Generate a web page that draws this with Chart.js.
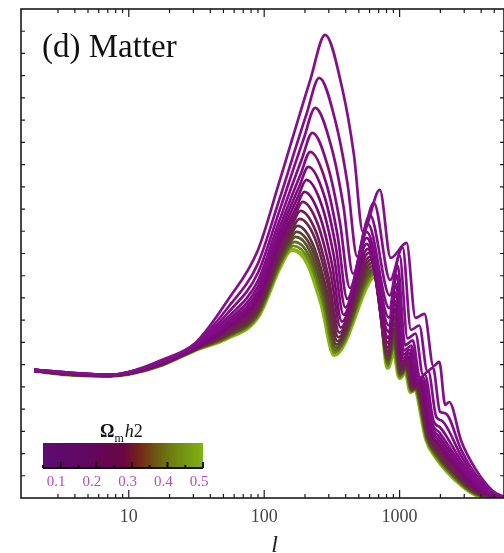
<!DOCTYPE html>
<html>
<head>
<meta charset="utf-8">
<script src="https://cdn.jsdelivr.net/npm/chart.js@4.4.1/dist/chart.umd.min.js"></script>
<style>
  html, body { margin: 0; padding: 0; background: #fff; overflow: hidden; }
  #wrap { width: 504px; height: 553px; overflow: hidden; }
</style>
</head>
<body>
<div id="wrap"><canvas id="chart" width="512" height="553"></canvas></div>
<script>
// Omega_m h^2 of each curve (0.1 ... 0.5)
const omega = [0.100, 0.125, 0.150, 0.175, 0.200, 0.225, 0.250, 0.275, 0.300,
               0.325, 0.350, 0.375, 0.400, 0.425, 0.450, 0.475, 0.500];

// multipoles shared by every curve (plateau + start of the rise, and the damping tail)
const ellLow = [2, 4, 7, 10, 17.5, 31, 54, 90, 128];
const ellTail = [2850, 3670, 4880, 5900];

// multipoles of the acoustic features, one list per curve
const ell_0100 = [219, 282, 376, 460, 536, 714, 859, 1125, 1310, 1525, 1775, 1963, 2173, 2323];
const ell_0125 = [205, 255, 338, 413, 486, 645, 851, 1052, 1212, 1396, 1604, 1763, 1990, 2173];
const ell_0150 = [196, 238, 314, 384, 453, 603, 845, 1000, 1144, 1310, 1489, 1628, 1864, 2062];
const ell_0175 = [190, 227, 297, 363, 429, 583, 839, 967, 1099, 1250, 1411, 1538, 1780, 1994];
const ell_0200 = [186, 219, 287, 349, 411, 573, 836, 951, 1077, 1220, 1369, 1487, 1739, 1967];
const ell_0225 = [182, 212, 277, 338, 397, 573, 834, 943, 1064, 1202, 1341, 1454, 1713, 1950];
const ell_0250 = [178, 205, 267, 327, 386, 573, 831, 935, 1052, 1184, 1316, 1425, 1687, 1931];
const ell_0275 = [174, 198, 257, 317, 375, 583, 828, 927, 1039, 1166, 1292, 1394, 1661, 1914];
const ell_0300 = [170, 192, 248, 308, 367, 593, 827, 922, 1032, 1156, 1277, 1375, 1647, 1908];
const ell_0325 = [165, 185, 240, 299, 359, 603, 824, 919, 1025, 1144, 1260, 1357, 1631, 1895];
const ell_0350 = [163, 182, 236, 294, 353, 613, 822, 916, 1020, 1137, 1250, 1343, 1620, 1889];
const ell_0375 = [159, 176, 227, 287, 347, 624, 821, 913, 1015, 1129, 1237, 1328, 1606, 1879];
const ell_0400 = [157, 173, 224, 283, 342, 634, 821, 910, 1012, 1125, 1231, 1321, 1604, 1882];
const ell_0425 = [155, 170, 220, 278, 338, 645, 820, 908, 1009, 1120, 1223, 1310, 1593, 1873];
const ell_0450 = [153, 167, 216, 275, 335, 656, 818, 907, 1005, 1114, 1214, 1301, 1588, 1873];
const ell_0475 = [151, 165, 212, 271, 332, 667, 818, 905, 1003, 1112, 1212, 1297, 1585, 1873];
const ell_0500 = [149, 162, 208, 266, 329, 679, 817, 904, 1000, 1107, 1204, 1288, 1577, 1867];

// power l(l+1)C_l/2pi for each curve (ellLow, feature list, ellTail)
const dl_0100 = [1430, 1396, 1374, 1407, 1541, 1731, 2212, 2770, 3507, 4669, 5172, 4580, 3831, 2971, 3440, 2681, 2848, 2011, 2055, 1474, 1519, 1039, 1072, 637, 313, 78, 12];
const dl_0125 = [1430, 1396, 1374, 1407, 1530, 1720, 2127, 2620, 3311, 4283, 4691, 4189, 3502, 2696, 3295, 2435, 2799, 1877, 1926, 1416, 1457, 961, 947, 538, 257, 63, 9];
const dl_0150 = [1430, 1396, 1374, 1407, 1519, 1709, 2068, 2515, 3183, 4013, 4356, 3916, 3267, 2504, 3161, 2263, 2708, 1783, 1835, 1376, 1413, 906, 860, 469, 218, 51, 7];
const dl_0175 = [1430, 1385, 1374, 1396, 1519, 1698, 2018, 2428, 3076, 3789, 4077, 3688, 3071, 2345, 3061, 2120, 2595, 1705, 1760, 1342, 1376, 860, 787, 412, 185, 42, 5];
const dl_0200 = [1430, 1385, 1374, 1396, 1508, 1687, 1980, 2364, 2994, 3617, 3865, 3516, 2922, 2224, 2971, 2013, 2488, 1646, 1702, 1317, 1349, 827, 732, 370, 161, 36, 4];
const dl_0225 = [1430, 1385, 1374, 1396, 1508, 1687, 1951, 2311, 2931, 3483, 3697, 3380, 2804, 2128, 2904, 1927, 2389, 1600, 1658, 1296, 1327, 799, 688, 335, 141, 30, 3];
const dl_0250 = [1430, 1385, 1374, 1396, 1508, 1676, 1926, 2265, 2875, 3366, 3552, 3262, 2702, 2045, 2837, 1853, 2295, 1559, 1619, 1279, 1308, 775, 651, 305, 124, 26, 2];
const dl_0275 = [1430, 1385, 1374, 1396, 1497, 1676, 1902, 2224, 2820, 3258, 3418, 3152, 2607, 1968, 2781, 1784, 2199, 1521, 1583, 1262, 1291, 753, 615, 278, 108, 21, 2];
const dl_0300 = [1419, 1385, 1363, 1396, 1497, 1676, 1882, 2188, 2780, 3168, 3306, 3062, 2529, 1903, 2737, 1726, 2113, 1490, 1552, 1249, 1276, 735, 586, 255, 96, 18, 1];
const dl_0325 = [1419, 1385, 1363, 1396, 1497, 1664, 1864, 2157, 2741, 3087, 3206, 2980, 2459, 1846, 2692, 1674, 2032, 1462, 1525, 1237, 1263, 718, 560, 235, 84, 15, 1];
const dl_0350 = [1419, 1374, 1363, 1385, 1497, 1664, 1849, 2129, 2708, 3016, 3116, 2906, 2395, 1795, 2658, 1629, 1956, 1436, 1501, 1225, 1251, 704, 537, 216, 74, 11, 1];
const dl_0375 = [1419, 1374, 1363, 1385, 1497, 1664, 1835, 2106, 2672, 2952, 3038, 2843, 2341, 1751, 2625, 1589, 1888, 1415, 1480, 1216, 1241, 691, 517, 200, 65, 9, 0];
const dl_0400 = [1419, 1374, 1363, 1385, 1486, 1664, 1823, 2084, 2641, 2899, 2971, 2788, 2293, 1712, 2591, 1555, 1826, 1396, 1462, 1209, 1233, 680, 499, 187, 57, 7, 0];
const dl_0425 = [1419, 1374, 1363, 1385, 1486, 1653, 1813, 2066, 2614, 2854, 2915, 2743, 2254, 1680, 2558, 1526, 1772, 1381, 1447, 1202, 1225, 671, 485, 174, 50, 4, 0];
const dl_0450 = [1419, 1374, 1363, 1385, 1486, 1653, 1803, 2050, 2589, 2808, 2860, 2698, 2215, 1649, 2536, 1498, 1720, 1365, 1431, 1195, 1218, 662, 470, 163, 44, 3, 0];
const dl_0475 = [1419, 1374, 1363, 1385, 1486, 1653, 1795, 2036, 2568, 2772, 2815, 2661, 2184, 1623, 2513, 1476, 1677, 1353, 1420, 1190, 1212, 656, 459, 154, 39, 1, 0];
const dl_0500 = [1419, 1374, 1363, 1385, 1486, 1653, 1787, 2022, 2547, 2737, 2770, 2625, 2156, 1597, 2491, 1452, 1631, 1340, 1407, 1184, 1206, 648, 447, 145, 34, 0, 0];

const xTickLabels = [10, 100, 1000];
const colorbarLabels = ['0.1', '0.2', '0.3', '0.4', '0.5'];

// purple -> dark brown -> green, one per omega
const curveColors = ['#82108a', '#820f88', '#810e87', '#800d85', '#7f0c82', '#7d0b7e', '#7b0a78', '#790a70',
                     '#761566', '#711c58', '#6a2649', '#62323c', '#5c4030', '#5a5228', '#606a20', '#6c881a', '#86b612'];

const curves = [
  [ell_0100, dl_0100], [ell_0125, dl_0125], [ell_0150, dl_0150], [ell_0175, dl_0175],
  [ell_0200, dl_0200], [ell_0225, dl_0225], [ell_0250, dl_0250], [ell_0275, dl_0275],
  [ell_0300, dl_0300], [ell_0325, dl_0325], [ell_0350, dl_0350], [ell_0375, dl_0375],
  [ell_0400, dl_0400], [ell_0425, dl_0425], [ell_0450, dl_0450], [ell_0475, dl_0475],
  [ell_0500, dl_0500]
];

const SERIF = '"Liberation Serif", "Times New Roman", serif';

// first dataset is drawn last, so the low-omega (purple) curves sit on top
const datasets = curves.map(([ellMid, dl], i) => {
  const ell = [...ellLow, ...ellMid, ...ellTail];
  return {
    label: 'Omega h2 = ' + omega[i],
    data: ell.map((l, j) => ({ x: l, y: dl[j] })),
    borderColor: curveColors[i],
    borderWidth: i === curves.length - 1 ? 4.2 : 2.7,
    cubicInterpolationMode: 'monotone',
    pointRadius: 0
  };
});

const isDecadeMultiple = (v) => {
  const m = v / Math.pow(10, Math.floor(Math.log10(v) + 1e-9));
  return Math.abs(m - Math.round(m)) < 1e-6 ? Math.round(m) : 0;
};

// frame with inward tick marks on all four sides, plus panel label and colour bar
const frameTicks = {
  id: 'frameTicks',
  afterDatasetsDraw(chart) {
    const { ctx, chartArea: a, scales: { x, y } } = chart;
    ctx.save();
    ctx.strokeStyle = '#1a1a1a';
    ctx.lineWidth = 1.6;
    ctx.strokeRect(a.left, a.top, a.right - a.left, a.bottom - a.top);
    ctx.lineWidth = 1.2;
    ctx.beginPath();
    x.ticks.forEach(t => {
      const m = isDecadeMultiple(t.value);
      if (!m) return;
      const px = x.getPixelForValue(t.value);
      if (px <= a.left + 1 || px >= a.right - 1) return;
      const len = m === 1 ? 8 : 4;
      ctx.moveTo(px, a.bottom); ctx.lineTo(px, a.bottom - len);
      ctx.moveTo(px, a.top); ctx.lineTo(px, a.top + len);
    });
    y.ticks.forEach(t => {
      const py = y.getPixelForValue(t.value);
      if (py <= a.top + 1 || py >= a.bottom - 1) return;
      const len = t.value % 1000 === 0 ? 8 : 4;
      ctx.moveTo(a.left, py); ctx.lineTo(a.left + len, py);
      ctx.moveTo(a.right, py); ctx.lineTo(a.right - len, py);
    });
    ctx.stroke();
    ctx.restore();
  },
  afterDraw(chart) {
    const { ctx, chartArea: a } = chart;
    ctx.save();
    ctx.fillStyle = '#111';
    ctx.font = '33px ' + SERIF;
    ctx.textBaseline = 'alphabetic';
    ctx.fillText('(d) Matter', a.left + 21, a.top + 48);

    // colour bar legend
    const bx = a.left + 22, bw = 160, by = a.bottom - 55, bh = 25;
    const g = ctx.createLinearGradient(bx, 0, bx + bw, 0);
    g.addColorStop(0, '#5c0c72');
    g.addColorStop(0.3, '#62075e');
    g.addColorStop(0.5, '#6a0545');
    g.addColorStop(0.6, '#742418');
    g.addColorStop(0.7, '#6c5512');
    g.addColorStop(0.8, '#6e7e10');
    g.addColorStop(1, '#80b214');
    ctx.fillStyle = g;
    ctx.fillRect(bx, by, bw, bh);
    ctx.strokeStyle = '#111';
    ctx.lineWidth = 2;
    ctx.beginPath();
    ctx.moveTo(bx, by + bh); ctx.lineTo(bx + bw, by + bh);
    for (let i = 0; i < 10; i++) {
      const tx = bx + i * bw / 9;
      ctx.moveTo(tx, by + bh); ctx.lineTo(tx, by + bh - (i % 2 ? 6 : 3));
    }
    ctx.stroke();

    ctx.fillStyle = '#b94cb9';
    ctx.font = '15px ' + SERIF;
    ctx.textAlign = 'center';
    ctx.textBaseline = 'middle';
    colorbarLabels.forEach((s, i) => {
      ctx.fillText(s, bx + 13 + i * 35.8, by + bh + 14);
    });

    // title Omega_m h2
    ctx.fillStyle = '#111';
    ctx.textAlign = 'left';
    ctx.textBaseline = 'alphabetic';
    let tx = bx + 57;
    const ty = by - 6;
    ctx.font = 'bold 18px ' + SERIF;
    ctx.fillText('Ω', tx, ty);
    tx += ctx.measureText('Ω').width;
    ctx.font = '12px ' + SERIF;
    ctx.fillText('m', tx, ty + 5);
    tx += ctx.measureText('m').width + 1;
    ctx.font = 'italic 18px ' + SERIF;
    ctx.fillText('h', tx, ty);
    tx += ctx.measureText('h').width;
    ctx.font = '18px ' + SERIF;
    ctx.fillText('2', tx, ty);
    ctx.restore();
  }
};

new Chart(document.getElementById('chart'), {
  type: 'line',
  data: { datasets },
  options: {
    responsive: false,
    animation: false,
    events: [],
    layout: { padding: { left: 21, top: 9, right: 4, bottom: 0 } },
    plugins: { legend: { display: false }, tooltip: { enabled: false } },
    scales: {
      x: {
        type: 'logarithmic',
        min: 1.6,
        max: 5900,
        grid: { display: false, drawTicks: false },
        border: { display: false },
        ticks: {
          autoSkip: false,
          maxRotation: 0,
          padding: 8,
          color: '#444',
          font: { family: SERIF, size: 18 },
          callback: (v) => xTickLabels.find(t => Math.abs(t - v) < 1e-6) ? String(v) : ''
        },
        title: {
          display: true,
          text: '\u2002\u2002l',
          color: '#222',
          font: { family: SERIF, size: 24, style: 'italic', lineHeight: 0.6 },
          padding: 0
        },
        afterFit: (s) => { s.height = 55; }
      },
      y: {
        min: 0,
        max: 5460,
        grid: { display: false, drawTicks: false },
        border: { display: false },
        ticks: { stepSize: 250, display: false },
        afterFit: (s) => { s.width = 0; }
      }
    }
  },
  plugins: [frameTicks]
});
</script>
</body>
</html>
